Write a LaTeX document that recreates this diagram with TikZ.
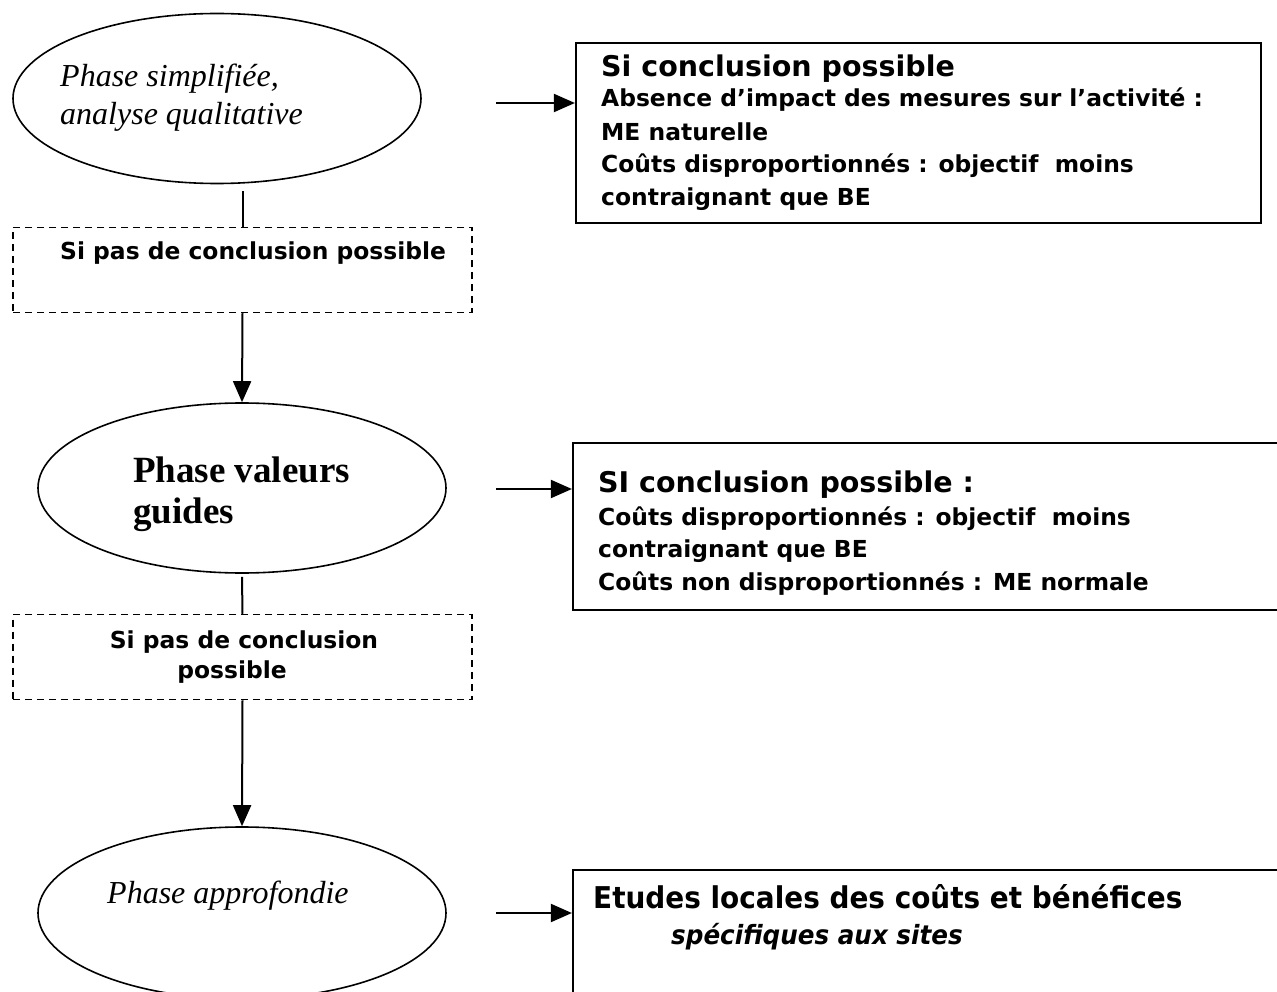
\documentclass[tikz,border=0pt]{standalone}
\usepackage{fontspec}
\setmainfont{Liberation Serif}
\newfontfamily\tah{DejaVu Sans}
\newfontfamily\tahn[FakeStretch=0.93]{DejaVu Sans}
\usetikzlibrary{arrows.meta,shapes.geometric}
\begin{document}
\begin{tikzpicture}[x=1pt,y=-1pt,
  ell/.style={draw, ellipse, line width=1.6pt, minimum width=408pt, minimum height=170pt, inner sep=0pt},
  dbox/.style={draw, dash pattern=on 7pt off 5pt, line width=1.5pt, rectangle, inner sep=0pt, minimum width=459pt, minimum height=85pt},
  sbox/.style={draw, line width=2.2pt, rectangle, inner sep=0pt},
  conn/.style={line width=2pt},
  arr/.style={line width=2pt, -{Triangle[length=21pt,width=18pt]}},
  txt/.style={anchor=base west, inner sep=0pt},
  seri/.style={txt, font=\fontsize{32}{38}\selectfont\itshape},
  serb/.style={txt, font=\fontsize{37}{41}\selectfont\bfseries},
  head/.style={txt, font=\fontsize{28.5}{33}\selectfont\tah\bfseries},
  body/.style={txt, font=\fontsize{23.4}{33}\selectfont\tah\bfseries},
]
\useasboundingbox (0,0) rectangle (1277,992);
\clip (0,0) rectangle (1277,992);

% ellipses
\node[ell] (e1) at (217,98.5) {};
\node[ell] (e2) at (242,488) {};
\node[ell, minimum height=172pt] (e3) at (242,913) {};
\node[seri] (t1a) at (60,87) {Phase simplifiée,};
\node[seri] (t1b) at (60,125) {analyse qualitative};
\node[serb] (t2a) at (133,482) {Phase valeurs};
\node[serb] (t2b) at (133,523) {guides};
\node[seri] (t3a) at (107,903) {Phase approfondie};

% dashed boxes
\node[dbox] (d1) at (242.5,270) {};
\node[dbox] (d2) at (242.5,657) {};
\node[body] (td1) at (60,260) {Si pas de conclusion possible};
\node[body, anchor=base] (td2a) at (244,648) {Si pas de conclusion};
\node[body, anchor=base] (td2b) at (232,678) {possible};

% right boxes
\node[sbox, minimum width=685pt, minimum height=180pt] (b1) at (918.5,133) {};
\node[sbox, minimum width=727pt, minimum height=167pt] (b2) at (936.5,526.5) {};
\node[sbox, minimum width=727pt, minimum height=150pt] (b3) at (936.5,945) {};

\node[head] (h1) at (601,77) {Si conclusion possible};
\node[body] (l1a) at (601,107) {Absence d’impact des mesures sur l’activité :};
\node[body] (l1b) at (601,140.5) {ME naturelle};
\node[body] (l1c) at (601,173) {Coûts disproportionnés : objectif\ \ moins};
\node[body] (l1d) at (601,205.5) {contraignant que BE};

\node[head] (h2) at (598,492) {SI conclusion possible :};
\node[body] (l2a) at (598,525) {Coûts disproportionnés : objectif\ \ moins};
\node[body] (l2b) at (598,557) {contraignant que BE};
\node[body] (l2c) at (598,590) {Coûts non disproportionnés : ME normale};

\node[txt, font=\fontsize{30}{36}\selectfont\tahn\bfseries] (h3) at (593,908) {Etudes locales des coûts et bénéfices};
\node[txt, font=\fontsize{26.5}{36}\selectfont\tahn\bfseries\itshape] (l3a) at (671,944) {spécifiques aux sites};

% connectors
\draw[conn] (d1.north) -- ([yshift=-7pt]d1.north |- e1.south);
\draw[arr] (d1.south) -- (e2.north);
\draw[conn] (d2.north) -- ([yshift=-3pt]e2.south);
\draw[arr] (d2.south) -- (e3.north);

\coordinate (a1) at (496,103);
\coordinate (a2) at (496,489);
\coordinate (a3) at (496,913);
\draw[arr] (a1) -- (a1 -| b1.west);
\draw[arr] (a2) -- (a2 -| b2.west);
\draw[arr] (a3) -- (a3 -| b3.west);
\end{tikzpicture}
\end{document}
